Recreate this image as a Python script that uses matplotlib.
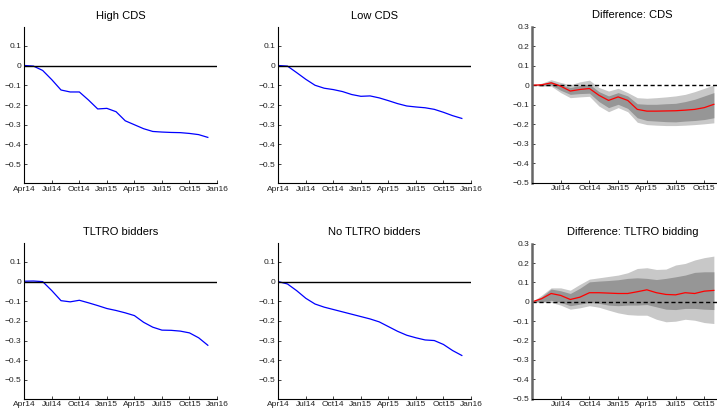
import numpy as np
import matplotlib.pyplot as plt

# months since Apr14
months = np.arange(21)
tick_pos = [0, 3, 6, 9, 12, 15, 18, 21]
tick_lab = ["Apr14", "Jul14", "Oct14", "Jan15", "Apr15", "Jul15", "Oct15", "Jan16"]

high_cds = [0.0, -0.003, -0.025, -0.072, -0.124, -0.134, -0.134, -0.175, -0.22, -0.217,
            -0.234, -0.28, -0.30, -0.32, -0.334, -0.337, -0.339, -0.34, -0.344, -0.35, -0.364]
low_cds = [0.0, -0.003, -0.036, -0.07, -0.10, -0.115, -0.122, -0.132, -0.147, -0.156,
           -0.154, -0.164, -0.178, -0.193, -0.205, -0.21, -0.214, -0.222, -0.237, -0.254, -0.268]
tltro = [0.002, 0.003, 0.0, -0.046, -0.097, -0.103, -0.095, -0.108, -0.122, -0.137,
         -0.147, -0.159, -0.173, -0.207, -0.232, -0.247, -0.248, -0.252, -0.261, -0.286, -0.324]
no_tltro = [0.0, -0.012, -0.046, -0.085, -0.114, -0.13, -0.142, -0.154, -0.166, -0.178,
            -0.19, -0.205, -0.229, -0.253, -0.273, -0.286, -0.297, -0.30, -0.32, -0.351, -0.376]

# difference panels (visible part only, Apr14..Nov15)
dmonths = np.arange(20)
cds_diff = [0.0, 0.002, 0.012, -0.005, -0.03, -0.022, -0.017, -0.052, -0.078, -0.06,
            -0.078, -0.124, -0.133, -0.133, -0.132, -0.131, -0.128, -0.124, -0.115, -0.098]
cds_hi90 = [0.0, 0.01, 0.028, 0.014, 0.002, 0.017, 0.026, -0.012, -0.03, -0.016,
            -0.038, -0.064, -0.067, -0.064, -0.06, -0.055, -0.047, -0.033, -0.016, 0.002]
cds_hi68 = [0.0, 0.005, 0.019, 0.002, -0.012, -0.002, 0.005, -0.033, -0.055, -0.038,
            -0.055, -0.095, -0.098, -0.098, -0.095, -0.093, -0.084, -0.072, -0.055, -0.038]
cds_lo68 = [0.0, -0.003, 0.002, -0.026, -0.047, -0.043, -0.041, -0.084, -0.115, -0.098,
            -0.119, -0.167, -0.181, -0.184, -0.187, -0.188, -0.184, -0.181, -0.176, -0.167]
cds_lo90 = [0.0, -0.005, -0.005, -0.038, -0.064, -0.06, -0.057, -0.107, -0.136, -0.115,
            -0.136, -0.19, -0.202, -0.205, -0.207, -0.207, -0.205, -0.202, -0.198, -0.193]

tl_diff = [0.0, 0.016, 0.043, 0.033, 0.012, 0.024, 0.047, 0.047, 0.045, 0.043,
           0.043, 0.052, 0.062, 0.047, 0.038, 0.036, 0.047, 0.043, 0.055, 0.059]
tl_hi90 = [0.0, 0.034, 0.072, 0.072, 0.06, 0.09, 0.117, 0.124, 0.131, 0.138,
           0.15, 0.172, 0.176, 0.167, 0.169, 0.19, 0.198, 0.216, 0.228, 0.236]
tl_hi68 = [0.0, 0.026, 0.066, 0.057, 0.043, 0.07, 0.103, 0.107, 0.11, 0.114,
           0.121, 0.124, 0.121, 0.115, 0.121, 0.129, 0.138, 0.152, 0.155, 0.155]
tl_lo68 = [0.0, 0.0, 0.008, -0.003, -0.02, -0.012, -0.003, -0.008, -0.017, -0.02,
           -0.017, -0.017, -0.014, -0.026, -0.038, -0.04, -0.034, -0.034, -0.038, -0.04]
tl_lo90 = [0.0, -0.003, -0.003, -0.017, -0.038, -0.031, -0.02, -0.028, -0.043, -0.057,
           -0.066, -0.069, -0.069, -0.09, -0.103, -0.1, -0.09, -0.095, -0.107, -0.112]

plt.rcParams['font.family'] = ['Liberation Sans', 'DejaVu Sans']
plt.rcParams['axes.unicode_minus'] = True

W, H = 717, 409
fig = plt.figure(figsize=(W / 100, H / 100), dpi=100)


def ax_px(x0, x1, ytop, ybot):
    return fig.add_axes([x0 / W, 1 - ybot / H, (x1 - x0) / W, (ybot - ytop) / H])


def style(ax, spine_col='black', spine_lw=0.8):
    for s in ['top', 'right']:
        ax.spines[s].set_visible(False)
    for s in ['left', 'bottom']:
        ax.spines[s].set_color(spine_col)
        ax.spines[s].set_linewidth(spine_lw)
    ax.tick_params(direction='in', length=2.5, width=0.6, labelsize=6, pad=2,
                   colors='#222222')


def level_panel(ax, y, title):
    ax.plot(months, y, color='#0000ff', lw=0.9)
    ax.axhline(0, color='black', lw=1.0)
    ax.set_xlim(0, 21)
    ax.set_ylim(-0.595, 0.195)
    ax.set_yticks([-0.5, -0.4, -0.3, -0.2, -0.1, 0, 0.1])
    ax.set_yticklabels(["\u22120.5", "\u22120.4", "\u22120.3", "\u22120.2", "\u22120.1", "0", "0.1"])
    ax.set_xticks(tick_pos)
    ax.set_xticklabels(tick_lab)
    ax.set_title(title, fontsize=8, pad=6)
    style(ax)


def diff_panel(ax, mid, hi90, lo90, hi68, lo68, title):
    ax.fill_between(dmonths, lo90, hi90, color='#c8c8c8', lw=0)
    ax.fill_between(dmonths, lo68, hi68, color='#969696', lw=0)
    ax.axhline(0, color='black', lw=1.0, ls=(0, (3, 2)))
    ax.plot(dmonths, mid, color='red', lw=0.9)
    ax.set_xlim(0, 21)
    ax.set_ylim(-0.5, 0.3)
    ax.set_yticks([-0.5, -0.4, -0.3, -0.2, -0.1, 0, 0.1, 0.2, 0.3])
    ax.set_yticklabels(["\u22120.5", "\u22120.4", "\u22120.3", "\u22120.2", "\u22120.1",
                        "0", "0.1", "0.2", "0.3"])
    ax.set_xticks(tick_pos[1:7])
    ax.set_xticklabels(tick_lab[1:7])
    ax.set_title(title, fontsize=8, pad=6)
    style(ax)
    ax.spines['left'].set_color('#666666')
    ax.spines['left'].set_linewidth(1.8)


level_panel(ax_px(24.3, 217, 27, 183), high_cds, "High CDS")
level_panel(ax_px(278.3, 471, 27, 183), low_cds, "Low CDS")
diff_panel(ax_px(532, 733, 26.7, 182.7), cds_diff, cds_hi90, cds_lo90, cds_hi68, cds_lo68,
           "Difference: CDS")

level_panel(ax_px(24.3, 217, 243.3, 398.5), tltro, "TLTRO bidders")
level_panel(ax_px(278.3, 471, 243.3, 398.5), no_tltro, "No TLTRO bidders")
diff_panel(ax_px(532, 733, 243.7, 398.7), tl_diff, tl_hi90, tl_lo90, tl_hi68, tl_lo68,
           "Difference: TLTRO bidding")

fig.savefig("out.png", dpi=100)
